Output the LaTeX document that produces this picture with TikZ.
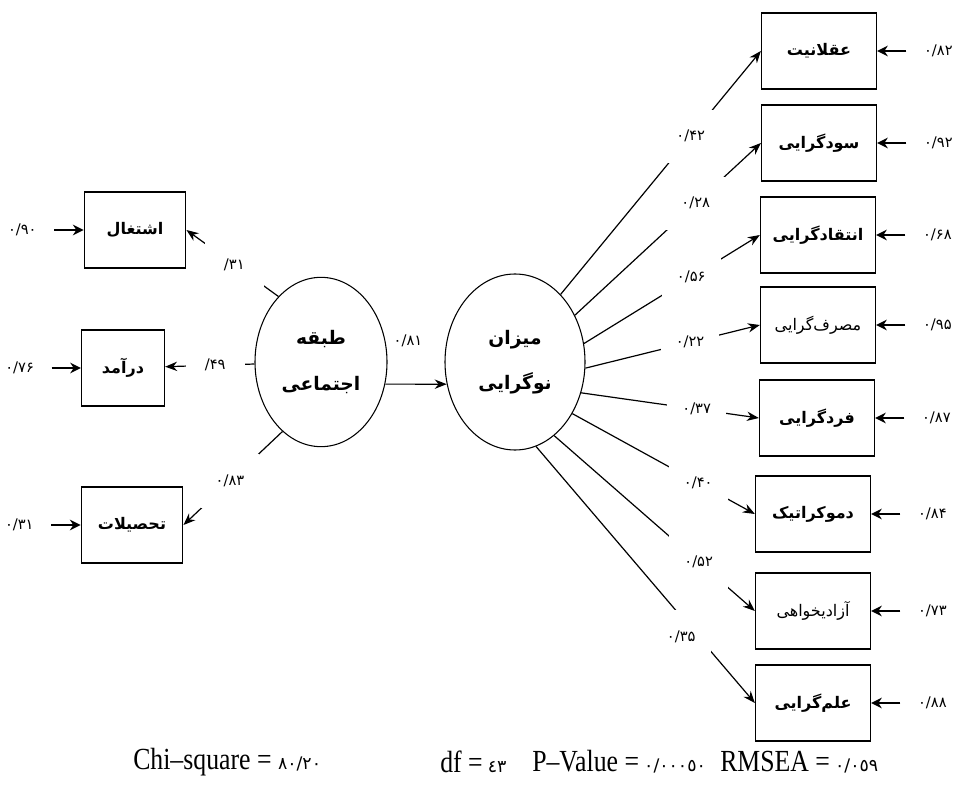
\documentclass[tikz,border=0pt]{standalone}
\usepackage{fontspec}
\setmainfont{Liberation Serif}
\newfontfamily\farsifont[Script=Arabic]{DejaVu Sans}
\newfontfamily\statfont[FakeStretch=0.84]{Liberation Serif}
\TeXXeTstate=1
\usetikzlibrary{shapes.geometric,arrows.meta,positioning}
\tikzset{
    ind-box/.style = {draw, rectangle, line width=1.2pt, minimum width=86pt, minimum height=57pt, font=\farsifont\bfseries\fontsize{12}{14}\selectfont},
    latent/.style = {draw, ellipse, line width=0.8pt, inner sep=0pt, align=center, font=\farsifont\bfseries\fontsize{14}{34}\selectfont},
    num/.style = {font=\farsifont\fontsize{11}{13}\selectfont},
    coef/.style = {num, fill=white, inner sep=0pt, minimum width=44pt, minimum height=40pt},
    err/.style = {num, inner xsep=13pt},
    stat/.style = {anchor=west, inner sep=0pt, font=\statfont\fontsize{23}{27}\selectfont},
    path-arrow/.style = {line width=0.9pt, -{Stealth[length=9pt,width=7pt]}},
    err-arrow/.style = {line width=1.8pt, -{Stealth[length=8pt,width=8pt]}},
}
\newcommand{\statnum}[1]{{\farsifont\fontsize{13}{15}\selectfont #1}}

\begin{document}
\begin{tikzpicture}[x=0.75pt, y=-0.75pt]
\useasboundingbox (0,0) rectangle (959,787);

% latent variables
\node [latent, minimum width=99pt, minimum height=127pt] (class) at (321,362) {\beginR طبقه\endR\\\beginR اجتماعی\endR};
\node [latent, minimum width=105pt, minimum height=132pt] (modern) at (515,362) {\beginR میزان\endR\\\beginR نوگرایی\endR};

% social class indicators
\node [ind-box, minimum width=76pt] (job) at (135,230) {\beginR اشتغال\endR};
\node [ind-box, minimum width=62pt] (income) at (123,368) {\beginR درآمد\endR};
\node [ind-box, minimum width=76pt] (edu) at (132,525) {\beginR تحصیلات\endR};

% modernism indicators
\node [ind-box] (rational) at (819,51) {\beginR عقلانیت\endR};
\node [ind-box] (profit) at (819,143) {\beginR سودگرایی\endR};
\node [ind-box] (critic) at (818,235) {\beginR انتقادگرایی\endR};
\node [ind-box, font=\farsifont\fontsize{12}{14}\selectfont] (consume) at (818,325) {\beginR مصرف‌گرایی\endR};
\node [ind-box] (individ) at (817,418) {\beginR فردگرایی\endR};
\node [ind-box] (democ) at (813,514) {\beginR دموکراتیک\endR};
\node [ind-box, font=\farsifont\fontsize{12}{14}\selectfont] (liberal) at (813,611) {\beginR آزادیخواهی\endR};
\node [ind-box] (science) at (813,703) {\beginR علم‌گرایی\endR};

% structural path
\draw [path-arrow] (class.-19) -- node[num, midway, above=24pt, xshift=-6pt] {۰/۸۱} (modern.198);

% loadings
\draw [path-arrow] (class.123) -- node[coef, pos=0.48] {/\kern0pt ۳۱} (job.east);
\draw [path-arrow] (class) -- node[coef, pos=0.44] {/\kern0pt ۴۹} (income);
\draw [path-arrow] (class.-119) -- node[coef, pos=0.53] {۰/۸۳} (edu.east);

\draw [path-arrow] (modern.56) -- node[coef, pos=0.65] {۰/۴۲} (rational.west);
\draw [path-arrow] (modern.38) -- node[coef, pos=0.65] {۰/۲۸} (profit.west);
\draw [path-arrow] (modern.15) -- node[coef, pos=0.61] {۰/۵۶} (critic.west);
\draw [path-arrow] (modern.-5) -- node[coef, pos=0.60] {۰/۲۲} (consume.west);
\draw [path-arrow] (modern.-25) -- node[coef, pos=0.65] {۰/۳۷} (individ.west);
\draw [path-arrow] (modern.-42) -- node[coef, pos=0.69] {۰/۴۰} (democ.west);
\draw [path-arrow] (modern.-62) -- node[coef, pos=0.72] {۰/۵۲} (liberal.west);
\draw [path-arrow] (modern.-76) -- node[coef, pos=0.70, xshift=-6pt, yshift=-8pt] {۰/۳۵} (science.west);

% error terms
\node [err, left=22pt of job] (e-job) {۰/۹۰};
\node [err, left=22pt of income] (e-income) {۰/۷۶};
\node [err, left=22pt of edu] (e-edu) {۰/۳۱};
\draw [err-arrow] (e-job) -- (job);
\draw [err-arrow] (e-income) -- (income);
\draw [err-arrow] (e-edu) -- (edu);

\node [err, right=22pt of rational] (e-rational) {۰/۸۲};
\node [err, right=22pt of profit] (e-profit) {۰/۹۲};
\node [err, right=22pt of critic] (e-critic) {۰/۶۸};
\node [err, right=22pt of consume] (e-consume) {۰/۹۵};
\node [err, right=22pt of individ] (e-individ) {۰/۸۷};
\node [err, right=22pt of democ] (e-democ) {۰/۸۴};
\node [err, right=22pt of liberal] (e-liberal) {۰/۷۳};
\node [err, right=22pt of science] (e-science) {۰/۸۸};
\draw [err-arrow] (e-rational) -- (rational);
\draw [err-arrow] (e-profit) -- (profit);
\draw [err-arrow] (e-critic) -- (critic);
\draw [err-arrow] (e-consume) -- (consume);
\draw [err-arrow] (e-individ) -- (individ);
\draw [err-arrow] (e-democ) -- (democ);
\draw [err-arrow] (e-liberal) -- (liberal);
\draw [err-arrow] (e-science) -- (science);

% fit indices
\node [stat] (chi) at (133,762) {Chi–square = \statnum{٨٠/٢٠}};
\node [stat] (df) at (440,762) {df =\,\statnum{٤٣}};
\node [stat] (pval) at (532,762) {P–Value =\,\statnum{٠/٠٠٠٥٠}};
\node [stat] (rmsea) at (720,762) {RMSEA =\,\statnum{٠/٠٥٩}};
\end{tikzpicture}
\end{document}
